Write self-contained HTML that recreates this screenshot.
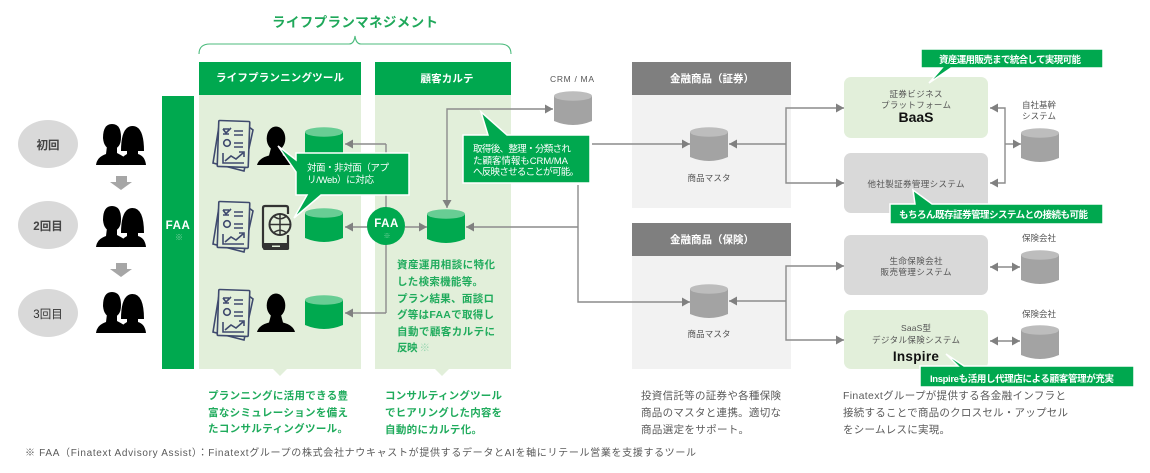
<!DOCTYPE html>
<html lang="ja"><head><meta charset="utf-8"><style>
html,body{margin:0;padding:0;background:#fff;width:1150px;height:473px;overflow:hidden}
svg{display:block}
text{font-family:"Liberation Sans","Noto Sans CJK JP",sans-serif}
.w{fill:#fff;font-weight:700}
.g{fill:#1fab5c;font-weight:700;font-size:10.5px}
.d{fill:#5a5a5a;font-size:10.5px}
.s{fill:#555;font-size:8.5px;text-anchor:middle}
.c{fill:#fff;font-size:9.5px}
.l{stroke:#8c8c8c;stroke-width:1.4;fill:none}
.cb{fill:#00a84f;stroke:#fff;stroke-width:1.5}
</style></head><body>
<svg width="1150" height="473" viewBox="0 0 1150 473" xmlns="http://www.w3.org/2000/svg">
<defs>
<marker id="a" markerUnits="userSpaceOnUse" markerWidth="9" markerHeight="10" refX="8" refY="4.5" orient="auto-start-reverse"><path d="M0,0 L8,4.5 L0,9 Z" fill="#808080"/></marker>
<symbol id="cg" viewBox="0 0 38 35" width="38" height="35" overflow="visible"><path d="M0,5 V30 Q19,38 38,30 V5 Z" fill="#00a94f"/><ellipse cx="19" cy="5" rx="19" ry="4.8" fill="#68cd94"/></symbol>
<symbol id="cy" viewBox="0 0 38 35" width="38" height="35" overflow="visible"><path d="M0,5 V30 Q19,38 38,30 V5 Z" fill="#a3a3a3"/><ellipse cx="19" cy="5" rx="19" ry="4.8" fill="#bdbdbd"/></symbol>
<symbol id="p" viewBox="0 0 38 38" width="38" height="38" overflow="visible"><path d="M0,38 Q2,31 12,28.5 L14,21 H24 L26,28.5 Q36,31 38,38 Z" fill="#000"/><ellipse cx="19" cy="11.5" rx="9.3" ry="12" fill="#000"/></symbol>
<symbol id="pair" viewBox="0 0 50 41" width="50" height="41" overflow="visible">
<path d="M0,41 Q1,33 10,30 L11,22 H21 L21,29 Q25,31 28,33 L23,41 Z" fill="#000"/><path d="M7,14 Q7,0 16,0 Q25,0 25,13 Q25,25 16,25 Q8,25 7,14 Z" fill="#000"/>
<path d="M25,27 Q25,2 36.500,2 Q48,2 48,27 L42,27 V30 Q49,32 50,41 H23 Q25,33 31,30 V27 Z" fill="#000"/></symbol>
<symbol id="doc" viewBox="0 0 44 52" width="44" height="52" overflow="visible"><g fill="none" stroke="#3f4a6e" stroke-width="1.600">
<path d="M6,6 L0,43 L31,51 L40,10 L36,7" /><rect x="5" y="1" width="31" height="46" rx="1" transform="rotate(2 21 24)" fill="#e2efda"/>
<path d="M10,9 L13,13 L18,8 M10,9 H16 M10,14 H16"/><path d="M21,11 H30 M21,15 H30 M21,23 H30 M21,27 H30"/><circle cx="14" cy="23" r="3.300"/>
<path d="M10,33 V43 H31 M12,41 L18,36 L23,39 L30,33 M26,32 H31 V37"/></g></symbol>
</defs>

<text x="355" y="27" font-size="13.5" font-weight="700" fill="#1fa85a" text-anchor="middle" textLength="166" lengthAdjust="spacing">ライフプランマネジメント</text>
<path d="M199,54 Q199,44 210,44 H349 Q354,44 355,36 Q356,44 361,44 H500 Q511,44 511,54" fill="none" stroke="#4cbb7d" stroke-width="1.1"/>

<!-- left circles -->
<ellipse cx="48" cy="144" rx="30" ry="24" fill="#d9d9d9"/><text x="48" y="149" font-size="11.5" font-weight="700" fill="#444" text-anchor="middle">初回</text>
<ellipse cx="48" cy="225" rx="30" ry="24" fill="#d9d9d9"/><text x="48" y="230" font-size="11.5" font-weight="700" fill="#444" text-anchor="middle">2回目</text>
<ellipse cx="48" cy="313" rx="30" ry="24" fill="#d9d9d9"/><text x="48" y="318" font-size="11.5" fill="#333" text-anchor="middle">3回目</text>
<use href="#pair" x="96" y="124"/><use href="#pair" x="96" y="206"/><use href="#pair" x="96" y="292"/>
<path d="M116,176 H127 V182 H132 L121,190 L110,182 H116 Z" fill="#a6a6a6"/>
<path d="M116,263 H127 V269 H132 L121,277 L110,269 H116 Z" fill="#a6a6a6"/>

<!-- FAA bar -->
<rect x="162" y="96" width="32" height="273" fill="#00a94f"/>
<text x="178" y="229" font-size="11.5" class="w" text-anchor="middle" letter-spacing=".6">FAA</text>
<text x="179" y="240" font-size="8" fill="#7ed3a3" text-anchor="middle">※</text>

<!-- panels -->
<rect x="199" y="95" width="162" height="274" fill="#e2efda"/><path d="M273,369 H287 L280,376 Z" fill="#e2efda"/>
<rect x="199" y="62" width="162" height="33" fill="#00a84f"/>
<text x="280" y="81" font-size="10.5" class="w" text-anchor="middle" textLength="128" lengthAdjust="spacing">ライフプランニングツール</text>
<rect x="375" y="95" width="136" height="274" fill="#e2efda"/><path d="M435,369 H449 L442,376 Z" fill="#e2efda"/>
<rect x="375" y="62" width="136" height="33" fill="#00a84f"/>
<text x="447" y="82" font-size="10.5" class="w" text-anchor="middle" textLength="53" lengthAdjust="spacing">顧客カルテ</text>

<!-- finance panels -->
<rect x="632" y="95" width="159" height="113" fill="#f2f2f2"/><rect x="632" y="62" width="159" height="33" fill="#7f7f7f"/>
<text x="712" y="82" font-size="10.500" class="w" text-anchor="middle" textLength="84" lengthAdjust="spacing">金融商品（証券）</text>
<rect x="632" y="256" width="159" height="113" fill="#f2f2f2"/><rect x="632" y="223" width="159" height="33" fill="#7f7f7f"/>
<text x="712" y="243" font-size="10.500" class="w" text-anchor="middle" textLength="84" lengthAdjust="spacing">金融商品（保険）</text>

<!-- icons -->
<use href="#doc" x="213" y="120"/><use href="#doc" x="213" y="201"/><use href="#doc" x="213" y="289"/>
<use href="#p" x="257" y="127"/><use href="#p" x="257" y="294"/>
<path d="M265,206 H286 Q288,206 288,208 V214 M288,235 V248 H265 Q263,248 263,246 V208 Q263,206 265,206" fill="none" stroke="#333" stroke-width="2.200"/><rect x="263" y="243" width="26" height="7" rx="1.500" fill="#333"/><rect x="272" y="245.500" width="8" height="1.500" fill="#e2efda"/>
<circle cx="280" cy="224.500" r="10.500" fill="#e2efda" stroke="#333" stroke-width="2"/><path d="M269.500,224.500 H290.500 M274,216.500 Q280,221 286,216.500 M274,232.500 Q280,228 286,232.500 M280,214 V235" fill="none" stroke="#333" stroke-width="1.500"/>

<!-- green cylinders -->
<use href="#cg" x="305" y="127"/><use href="#cg" x="305" y="208"/><use href="#cg" x="305" y="295"/>

<!-- connectors -->
<path class="l" d="M386,144 H345" marker-end="url(#a)"/>
<path class="l" d="M386,144 V313"/>
<path class="l" d="M386,227 H345" marker-end="url(#a)"/>
<path class="l" d="M386,313 H345" marker-end="url(#a)"/>
<path class="l" d="M405,227 H427" marker-end="url(#a)"/>
<path class="l" d="M578,227 H466" marker-end="url(#a)"/>
<path class="l" d="M447,208 V109 H553" marker-start="url(#a)" marker-end="url(#a)"/>
<path class="l" d="M592,144 H690" marker-end="url(#a)"/>
<path class="l" d="M578,185 V302 H690" marker-end="url(#a)"/>
<path class="l" d="M786,144 H729" marker-end="url(#a)"/>
<path class="l" d="M786,301 H729" marker-end="url(#a)"/>

<use href="#cg" x="427" y="209"/>
<circle cx="386" cy="226" r="19" fill="#00a94f"/>
<text x="386.500" y="227" font-size="11.500" class="w" text-anchor="middle" letter-spacing=".5">FAA</text>
<text x="387" y="238" font-size="7" fill="#7ed3a3" text-anchor="middle">※</text>

<!-- callout 1 -->
<path class="cb" d="M296,153 H409 V195 H321 L294,218 L307,195 H296 V172 L278,146 L296,160 Z"/>
<text x="307" y="171" class="c" textLength="82" lengthAdjust="spacing">対面・非対面（アプ</text>
<text x="307" y="183" class="c" textLength="67" lengthAdjust="spacing">リ/Web）に対応</text>

<!-- panel text -->
<g class="g">
<text x="397" y="268" textLength="98" lengthAdjust="spacing">資産運用相談に特化</text>
<text x="397" y="285" textLength="86" lengthAdjust="spacing">した検索機能等。</text>
<text x="397" y="302" textLength="97" lengthAdjust="spacing">プラン結果、面談ロ</text>
<text x="397" y="318" textLength="97" lengthAdjust="spacing">グ等はFAAで取得し</text>
<text x="397" y="335" textLength="98" lengthAdjust="spacing">自動で顧客カルテに</text>
<text x="397" y="351" textLength="33" lengthAdjust="spacing">反映 <tspan fill="#9ad6b1">※</tspan></text>
<text x="208" y="399" textLength="140" lengthAdjust="spacing">プランニングに活用できる豊</text>
<text x="208" y="416" textLength="140" lengthAdjust="spacing">富なシミュレーションを備え</text>
<text x="208" y="432" textLength="140" lengthAdjust="spacing">たコンサルティングツール。</text>
<text x="385" y="399" textLength="117" lengthAdjust="spacing">コンサルティングツール</text>
<text x="385" y="416" textLength="117" lengthAdjust="spacing">でヒアリングした内容を</text>
<text x="385" y="433" textLength="97" lengthAdjust="spacing">自動的にカルテ化。</text>
</g>

<!-- CRM -->
<text x="572" y="82" font-size="8.500" fill="#555" text-anchor="middle" textLength="44" lengthAdjust="spacing">CRM / MA</text>
<use href="#cy" x="554" y="91"/>
<path class="cb" d="M463,135 H488 L481,112 L507,135 H590 V183 H463 Z"/>
<text x="473" y="152" class="c" textLength="98" lengthAdjust="spacing">取得後、整理・分類され</text>
<text x="473" y="164" class="c" textLength="95" lengthAdjust="spacing">た顧客情報もCRM/MA</text>
<text x="473" y="175" class="c" textLength="106" lengthAdjust="spacing">へ反映させることが可能。</text>

<use href="#cy" x="690" y="127"/><use href="#cy" x="690" y="284"/>
<text x="709" y="181" class="s" textLength="43" lengthAdjust="spacing">商品マスタ</text>
<text x="709" y="337" class="s" textLength="43" lengthAdjust="spacing">商品マスタ</text>
<path class="l" d="M844,108 H786 V183 H844" marker-start="url(#a)" marker-end="url(#a)"/>
<path class="l" d="M844,266 H786 V340 H844" marker-start="url(#a)" marker-end="url(#a)"/>

<!-- system boxes -->
<rect x="844" y="77" width="144" height="61" rx="7" fill="#e2efda"/>
<rect x="844" y="153" width="144" height="60" rx="7" fill="#d9d9d9"/>
<rect x="844" y="235" width="144" height="60" rx="7" fill="#d9d9d9"/>
<rect x="844" y="310" width="144" height="59" rx="7" fill="#e2efda"/>
<text x="916" y="97" class="s" textLength="53" lengthAdjust="spacing">証券ビジネス</text>
<text x="916" y="108" class="s" textLength="70" lengthAdjust="spacing">プラットフォーム</text>
<text x="916" y="122" font-size="14" font-weight="700" fill="#111" text-anchor="middle">BaaS</text>
<text x="916" y="187" class="s" textLength="97" lengthAdjust="spacing">他社製証券管理システム</text>
<text x="916" y="264" class="s" textLength="53" lengthAdjust="spacing">生命保険会社</text>
<text x="916" y="275" class="s" textLength="71" lengthAdjust="spacing">販売管理システム</text>
<text x="916" y="331" class="s" textLength="30" lengthAdjust="spacing">SaaS型</text>
<text x="916" y="343" class="s" textLength="88" lengthAdjust="spacing">デジタル保険システム</text>
<text x="916" y="361" font-size="13.500" font-weight="700" fill="#111" text-anchor="middle" letter-spacing=".3">Inspire</text>

<!-- right side -->
<path class="l" d="M990,108 H1005 V183 H990" marker-start="url(#a)" marker-end="url(#a)"/>
<path class="l" d="M1005,144 H1021" marker-end="url(#a)"/>
<path class="l" d="M990,267 H1020" marker-start="url(#a)" marker-end="url(#a)"/>
<path class="l" d="M990,341 H1020" marker-start="url(#a)" marker-end="url(#a)"/>
<use href="#cy" x="1021" y="128"/><use href="#cy" x="1021" y="250"/><use href="#cy" x="1021" y="325"/>
<text x="1039" y="108" class="s" textLength="34" lengthAdjust="spacing">自社基幹</text>
<text x="1039" y="119" class="s" textLength="34" lengthAdjust="spacing">システム</text>
<text x="1039" y="241" class="s" textLength="34" lengthAdjust="spacing">保険会社</text>
<text x="1039" y="317" class="s" textLength="34" lengthAdjust="spacing">保険会社</text>

<!-- small callouts -->
<path class="cb" d="M921,49 H1103 V68 H951 L929,83 L942,68 H921 Z"/>
<text x="939" y="63" class="c" font-weight="700" textLength="142" lengthAdjust="spacing">資産運用販売まで統合して実現可能</text>
<path class="cb" d="M890,204 H915 L913,190 L932,204 H1103 V224 H890 Z"/>
<text x="899" y="218" class="c" font-weight="700" textLength="189" lengthAdjust="spacing">もちろん既存証券管理システムとの接続も可能</text>
<path class="cb" d="M920,366 H958 L946,354 L964,366 H1134 V387 H920 Z"/>
<text x="930" y="382" class="c" font-weight="700" textLength="184" lengthAdjust="spacing">Inspireも活用し代理店による顧客管理が充実</text>

<!-- descriptions -->
<g class="d">
<text x="641" y="399" textLength="140" lengthAdjust="spacing">投資信託等の証券や各種保険</text>
<text x="641" y="416" textLength="140" lengthAdjust="spacing">商品のマスタと連携。適切な</text>
<text x="641" y="433" textLength="108" lengthAdjust="spacing">商品選定をサポート。</text>
<text x="843" y="399" textLength="223" lengthAdjust="spacing">Finatextグループが提供する各金融インフラと</text>
<text x="843" y="416" textLength="225" lengthAdjust="spacing">接続することで商品のクロスセル・アップセル</text>
<text x="843" y="433" textLength="107" lengthAdjust="spacing">をシームレスに実現。</text>
<text x="25" y="456" font-size="10" textLength="671" lengthAdjust="spacing">※ FAA（Finatext Advisory Assist）：Finatextグループの株式会社ナウキャストが提供するデータとAIを軸にリテール営業を支援するツール</text>
</g>
</svg>
</body></html>
